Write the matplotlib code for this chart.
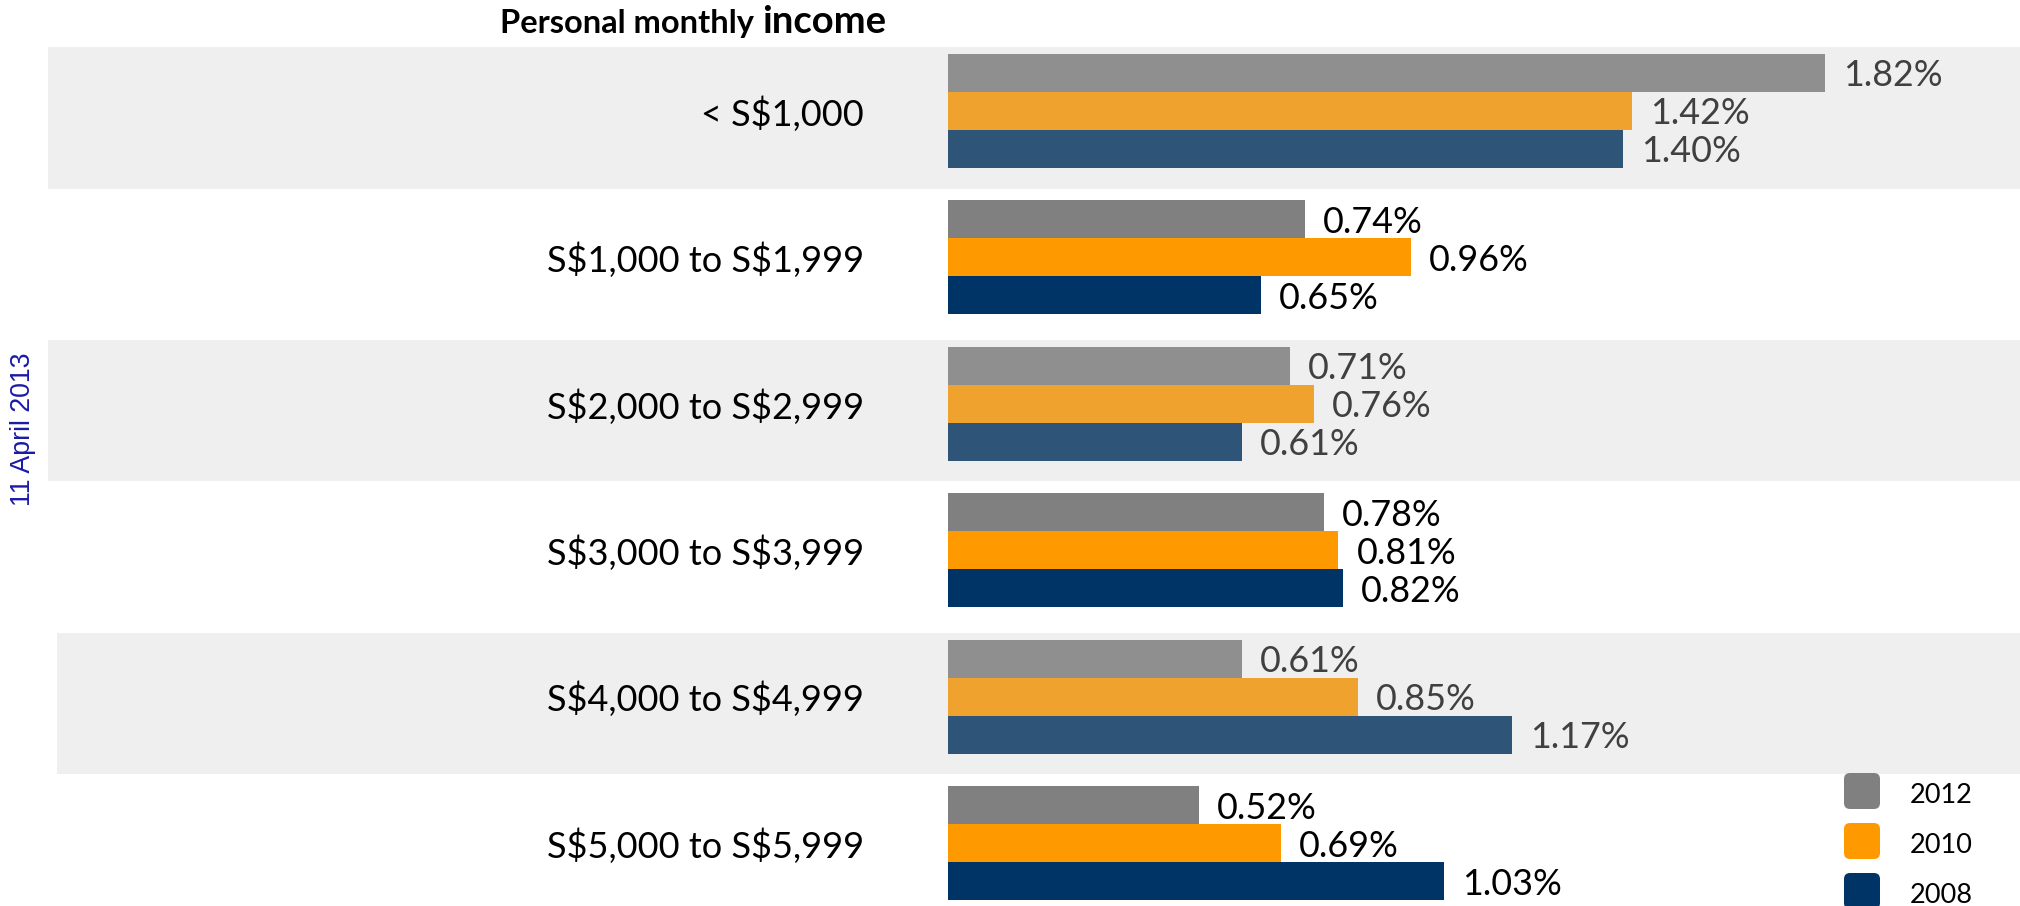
import matplotlib
matplotlib.use("Agg")
import matplotlib.pyplot as plt
from matplotlib.patches import FancyBboxPatch
import numpy as np

plt.rcParams["text.parse_math"] = False

# ---------------- data ----------------
categories = ["< S$1,000", "S$1,000 to S$1,999", "S$2,000 to S$2,999",
              "S$3,000 to S$3,999", "S$4,000 to S$4,999", "S$5,000 to S$5,999"]
years = ["2012", "2010", "2008"]
v2012 = [1.82, 0.74, 0.71, 0.78, 0.61, 0.52]
v2010 = [1.42, 0.96, 0.76, 0.81, 0.85, 0.69]
v2008 = [1.40, 0.65, 0.61, 0.82, 1.17, 1.03]
title_a = "Personal monthly"
title_b = "income"
side_note = "11 April 2013"

# ---------------- style ----------------
W, H, DPI = 2020, 906, 100
X0_PX = 948.0          # pixel where value 0 sits
PX_PER_UNIT = 482.0    # pixels per 1 %
ROW0_PX = 111.0        # centre of first group (from top)
ROW_PX = 146.4         # spacing between groups
BAR_PX = 38.0
highlight_rows = [0, 2, 4]
band_x0_px = [48, 48, 57]
band_top, band_bot = -64 / ROW_PX, 77.5 / ROW_PX
band_color = "#efefef"
cols_norm = ["#808080", "#ff9900", "#003366"]
cols_high = ["#8f8f8f", "#f0a22e", "#2e5478"]
txt_norm = "#000000"
txt_high = "#404040"
FONT = ["Lato", "DejaVu Sans"]

fig = plt.figure(figsize=(W / DPI, H / DPI), dpi=DPI)
ax = fig.add_axes([0, 0, 1, 1])
ax.set_xlim(-X0_PX / PX_PER_UNIT, (W - X0_PX) / PX_PER_UNIT)
ax.set_ylim((H - ROW0_PX) / ROW_PX, -ROW0_PX / ROW_PX)
ax.axis("off")

bh = BAR_PX / ROW_PX
y = np.arange(len(categories))
series = [v2012, v2010, v2008]

# background bands
for k, r in enumerate(highlight_rows):
    ax.axhspan(r + band_top, r + band_bot, xmin=band_x0_px[k] / W, xmax=1,
               color=band_color, lw=0, zorder=0)

for j, vals in enumerate(series):
    offs = (j - 1) * bh
    for i, v in enumerate(vals):
        hl = i in highlight_rows
        c = cols_high[j] if hl else cols_norm[j]
        ax.barh(y[i] + offs, v, height=bh, color=c, lw=0, zorder=2)
        ax.text(v + 18 / PX_PER_UNIT, y[i] + offs, f"{v:.2f}%",
                ha="left", va="center_baseline", fontsize=25.8, family=FONT,
                color=txt_high if hl else txt_norm, zorder=3)

# category labels
for i, cat in enumerate(categories):
    ax.text((864 - X0_PX) / PX_PER_UNIT, y[i], cat, ha="right",
            va="center_baseline", fontsize=26, family=FONT, color="#000000")

# title
t1 = fig.text(500 / W, 1 - 33 / H, title_a, ha="left", va="baseline",
              fontsize=23.5, fontweight="bold", family=FONT)
fig.canvas.draw()
bb = t1.get_window_extent()
fig.text((bb.x1 + 8) / W, 1 - 33 / H, title_b, ha="left", va="baseline",
         fontsize=27.5, fontweight="bold", family=FONT)

# side note
fig.text(23 / W, 1 - 429 / H, side_note, rotation=90, ha="center", va="center",
         fontsize=19.3, family=["Liberation Sans", "DejaVu Sans"], color="#1a1aa6")

# legend (manual, rounded squares)
for j, yr in enumerate(years):
    cy = 791 + 50 * j
    sq = FancyBboxPatch((1844 / W, 1 - (cy + 18) / H), 36 / W, 36 / H,
                        boxstyle="round,pad=0,rounding_size=0.003",
                        transform=fig.transFigure, facecolor=cols_norm[j],
                        edgecolor="none", mutation_aspect=W / H)
    fig.add_artist(sq)
    fig.text(1910 / W, 1 - (cy + 2) / H, yr, ha="left", va="center_baseline",
             fontsize=19.5, family=FONT, color="#000000")

fig.savefig("out.png", dpi=DPI)
